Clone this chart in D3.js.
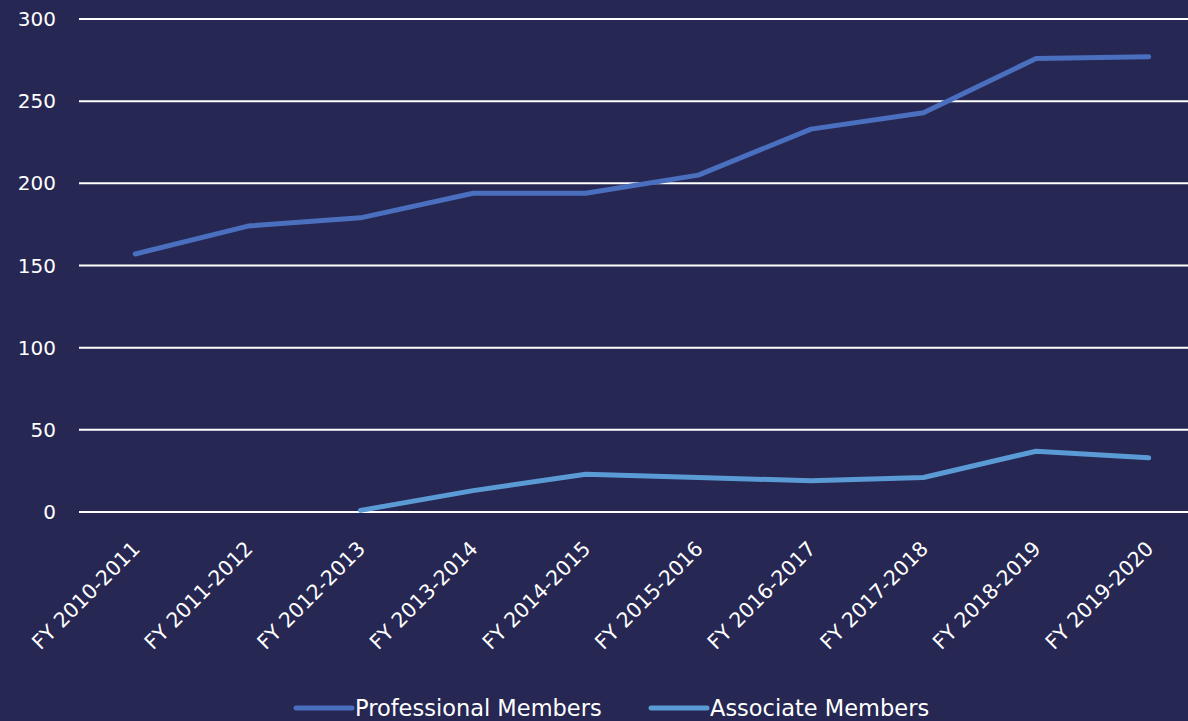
<!DOCTYPE html>
<html>
<head>
<meta charset="utf-8">
<script src="https://cdn.jsdelivr.net/npm/d3@7"></script>
<style>
  body { margin: 0; background: #262752; }
  svg { display: block; }
  text { font-family: "DejaVu Sans", "Lato", sans-serif; fill: #ffffff; }
</style>
</head>
<body>
<svg id="chart"></svg>
<script>
const years = ['FY 2010-2011', 'FY 2011-2012', 'FY 2012-2013', 'FY 2013-2014', 'FY 2014-2015',
  'FY 2015-2016', 'FY 2016-2017', 'FY 2017-2018', 'FY 2018-2019', 'FY 2019-2020'];
const professional = [157, 174, 179, 194, 194, 205, 233, 243, 276, 277];
const associate = [null, null, 1, 13, 23, 21, 19, 21, 37, 33];
const yTicks = [0, 50, 100, 150, 200, 250, 300];

const width = 1188, height = 721;
const svg = d3.select('#chart').attr('width', width).attr('height', height);

svg.append('rect').attr('width', width).attr('height', height).attr('fill', '#262752');

// plot area runs a little past the right edge, like the original
const x = d3.scaleBand().domain(years).range([79, 1205]);
const y = d3.scaleLinear().domain([0, 300]).range([512, 19]);

// gridlines
svg.append('g').selectAll('line')
  .data(yTicks)
  .enter().append('line')
  .attr('x1', 79).attr('x2', 1205)
  .attr('y1', d => y(d)).attr('y2', d => y(d))
  .style('stroke', '#ffffff')
  .style('stroke-width', 2);

// y labels
svg.append('g').selectAll('text')
  .data(yTicks)
  .enter().append('text')
  .attr('x', 56)
  .attr('y', d => y(d))
  .attr('dy', '0.35em')
  .attr('text-anchor', 'end')
  .style('font-size', '20px')
  .text(d => d);

// x labels, rotated
svg.append('g').selectAll('text')
  .data(years)
  .enter().append('text')
  .attr('text-anchor', 'end')
  .attr('transform', d => `translate(${x(d) + x.bandwidth() / 2 + 6},${550}) rotate(-45)`)
  .style('font-size', '20.5px')
  .text(d => d);

const cx = i => x(years[i]) + x.bandwidth() / 2;
const line = d3.line()
  .defined(d => d != null)
  .x((d, i) => cx(i))
  .y(d => y(d));

const series = [
  { name: 'Professional Members', values: professional, color: '#4a6fbf' },
  { name: 'Associate Members', values: associate, color: '#5b9bd5' }
];

svg.append('g').selectAll('path')
  .data(series)
  .enter().append('path')
  .attr('d', d => line(d.values))
  .style('fill', 'none')
  .style('stroke', d => d.color)
  .style('stroke-width', 5)
  .style('stroke-linecap', 'round')
  .style('stroke-linejoin', 'round');

// legend
const legendX = [296, 651];
const legend = svg.append('g').selectAll('g')
  .data(series)
  .enter().append('g')
  .attr('transform', (d, i) => `translate(${legendX[i]},708)`);

legend.append('line')
  .attr('x1', 0).attr('x2', 56)
  .style('stroke', d => d.color)
  .style('stroke-width', 5)
  .style('stroke-linecap', 'round');

legend.append('text')
  .attr('x', 59)
  .attr('dy', '0.35em')
  .style('font-size', '22.5px')
  .text(d => d.name);
</script>
</body>
</html>
